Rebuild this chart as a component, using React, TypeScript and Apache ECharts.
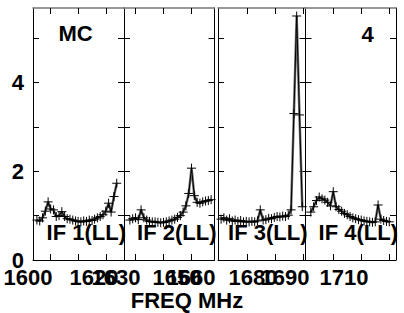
import React, { useEffect, useRef } from 'react';
import * as echarts from 'echarts';

const FONT = "'Liberation Sans', Arial, Helvetica, sans-serif";

// ---- data (frequency in MHz, amplitude) ----
const if1Freq = [1595.4, 1596.4, 1597.4, 1598.4, 1599.4, 1600.3, 1601.3, 1602.3, 1603.3, 1604.3, 1605.3, 1606.2, 1607.2, 1608.2, 1609.2, 1610.1, 1611.1, 1612.1, 1613.1, 1614.1, 1615.1, 1616.0, 1617.0, 1618.0, 1619.0, 1620.0, 1621.0, 1621.9, 1622.9, 1623.9];
const if1Amp = [0.90, 0.88, 0.95, 1.10, 1.31, 1.15, 1.13, 0.98, 1.00, 1.09, 0.98, 0.93, 0.92, 0.90, 0.88, 0.87, 0.86, 0.88, 0.87, 0.90, 0.89, 0.92, 0.95, 0.98, 1.02, 1.10, 1.28, 1.08, 1.43, 1.73];

const if2Freq = [1628.1, 1629.1, 1630.1, 1631.1, 1632.1, 1633.1, 1634.1, 1635.1, 1636.1, 1637.1, 1638.1, 1639.1, 1640.1, 1641.1, 1642.1, 1643.1, 1644.1, 1645.1, 1646.1, 1647.1, 1648.1, 1649.1, 1650.1, 1651.1, 1652.1, 1653.1, 1654.1, 1655.1, 1656.1, 1657.1];
const if2Amp = [0.90, 0.93, 0.95, 0.91, 1.13, 0.95, 0.90, 0.87, 0.86, 0.86, 0.85, 0.84, 0.85, 0.86, 0.88, 0.90, 0.92, 0.96, 1.00, 1.08, 1.22, 1.50, 2.07, 1.45, 1.30, 1.28, 1.31, 1.33, 1.34, 1.36];

const if3Freq = [1660.6, 1661.6, 1662.6, 1663.6, 1664.6, 1665.6, 1666.6, 1667.6, 1668.6, 1669.6, 1670.6, 1671.6, 1672.6, 1673.6, 1674.6, 1675.6, 1676.6, 1677.6, 1678.6, 1679.6, 1680.6, 1681.6, 1682.6, 1683.6, 1684.6, 1685.6, 1686.6, 1687.6, 1688.6, 1689.6];
const if3Amp = [0.92, 0.95, 0.90, 0.93, 0.88, 0.90, 0.87, 0.89, 0.86, 0.87, 0.86, 0.87, 0.86, 0.88, 1.13, 0.90, 0.91, 0.94, 0.93, 0.96, 0.98, 0.97, 0.99, 0.98, 1.01, 1.13, 3.30, 5.50, 3.27, 1.20];

const if4Freq = [1692, 1693, 1694, 1695, 1696, 1697, 1698, 1699, 1700, 1701, 1702, 1703, 1704, 1705, 1706, 1707, 1708, 1709, 1710, 1711, 1712, 1713, 1714, 1715, 1716, 1717, 1718, 1719, 1720];
const if4Amp = [1.08, 1.20, 1.34, 1.42, 1.38, 1.35, 1.30, 1.22, 1.54, 1.20, 1.14, 1.10, 1.05, 1.02, 0.98, 0.95, 0.93, 0.91, 0.90, 0.88, 0.87, 0.86, 0.85, 0.86, 1.24, 0.92, 0.89, 0.87, 0.86];

const panelFreqs = [if1Freq, if2Freq, if3Freq, if4Freq];
const panelAmps = [if1Amp, if2Amp, if3Amp, if4Amp];
const panelTitles = ['IF 1(LL)', 'IF 2(LL)', 'IF 3(LL)', 'IF 4(LL)'];

// tick marks and tick labels
const xTickValues = [[1600, 1610, 1620], [1630, 1640, 1650], [1670, 1680, 1690], [1700, 1710, 1720]];
const xTickLabels = [[1600, 1620], [1630, 1650], [1660, 1680], [1690, 1710]];
const yTickValues = [0, 1, 2, 3, 4, 5];
const yTickLabels = [0, 2, 4];

const sourceName = 'MC';
const plotNumber = '4';
const xAxisTitle = 'FREQ MHz';

// ---- layout ----
const TOP = 8;
const BOTTOM = 260;
const Y_MIN = 0;
const Y_MAX = 5.68;
const PANEL_LEFT = [33, 124, 218, 305.5];
const PANEL_RIGHT = [124, 214.5, 305.5, 396];
const X_MIN = [1594, 1626, 1659.5, 1690.1];
const X_MAX = [1626.5, 1658.3, 1690.75, 1722.4];
const LABEL_PX = [[28, 94], [116, 177], [191, 253], [285, 344]];

const PLUS = 'path://M0,5L10,5M5,0L5,10';

function buildOption() {
  const grid: any[] = [];
  const xAxis: any[] = [];
  const yAxis: any[] = [];
  const series: any[] = [];
  const graphic: any[] = [];

  const labelFont = { fontFamily: FONT, fontSize: 22, fontWeight: 'bold', color: '#000' };
  const plain = (v: number) => String(v);

  for (let i = 0; i < 4; i++) {
    grid.push({ left: PANEL_LEFT[i], width: PANEL_RIGHT[i] - PANEL_LEFT[i], top: TOP, height: BOTTOM - TOP, containLabel: false });
  }
  for (let i = 0; i < 4; i++) {
    grid.push({ left: LABEL_PX[i][0], width: LABEL_PX[i][1] - LABEL_PX[i][0], top: TOP, height: BOTTOM - TOP, containLabel: false });
  }

  for (let i = 0; i < 4; i++) {
    const base = {
      gridIndex: i, type: 'value', min: X_MIN[i], max: X_MAX[i],
      splitLine: { show: false },
      axisLabel: { show: false },
    };
    xAxis.push({
      ...base, position: 'bottom',
      axisLine: { show: true, onZero: false, lineStyle: { color: '#000', width: 1 } },
      axisTick: { show: true, inside: true, length: 6, customValues: xTickValues[i], lineStyle: { color: '#000', width: 1 } },
    });
    xAxis.push({
      ...base, position: 'top',
      axisLine: { show: true, onZero: false, lineStyle: { color: '#777', width: 1.5 } },
      axisTick: { show: true, inside: true, length: 6, customValues: xTickValues[i], lineStyle: { color: '#000', width: 1 } },
    });
    const ybase = {
      gridIndex: i, type: 'value', min: Y_MIN, max: Y_MAX, interval: 1,
      splitLine: { show: false },
      axisLine: { show: true, onZero: false, lineStyle: { color: '#000', width: 1 } },
      axisTick: { show: true, inside: true, length: 6, customValues: yTickValues, lineStyle: { color: '#000', width: 1 } },
    };
    yAxis.push({
      ...ybase, position: 'left',
      axisLabel: i === 0
        ? { show: true, customValues: yTickLabels, margin: 9, formatter: plain, ...labelFont }
        : { show: false },
    });
    yAxis.push({ ...ybase, position: 'right', axisLabel: { show: false } });
  }
  for (let i = 0; i < 4; i++) {
    xAxis.push({
      gridIndex: 4 + i, type: 'value', position: 'bottom',
      min: xTickLabels[i][0], max: xTickLabels[i][1],
      axisLine: { show: false }, axisTick: { show: false }, splitLine: { show: false },
      axisLabel: { show: true, customValues: xTickLabels[i], showMinLabel: true, showMaxLabel: true, margin: 6, formatter: plain, ...labelFont },
    });
    yAxis.push({ gridIndex: 4 + i, type: 'value', show: false, min: 0, max: 1 });
  }

  for (let i = 0; i < 4; i++) {
    const data = panelFreqs[i].map((f, k) => [f, panelAmps[i][k]]);
    series.push({
      type: 'line', xAxisIndex: 2 * i, yAxisIndex: 2 * i, data,
      symbol: 'none', lineStyle: { color: '#6e6e6e', width: 2.5 }, z: 2, silent: true,
    });
    series.push({
      type: 'line', xAxisIndex: 2 * i, yAxisIndex: 2 * i, data,
      symbol: PLUS, symbolSize: 9, showSymbol: true,
      itemStyle: { color: 'transparent', borderColor: '#000', borderWidth: 1 },
      lineStyle: { color: '#000', width: 1 }, z: 3, silent: true,
    });
    graphic.push({
      type: 'text', x: PANEL_RIGHT[i] + 2, y: 232, z: 10,
      style: { text: panelTitles[i], fill: '#000', font: `bold 22px ${FONT}`, align: 'right', verticalAlign: 'middle' },
    });
  }

  graphic.push({
    type: 'text', x: 75.5, y: 33.5, z: 10,
    style: { text: sourceName, fill: '#000', font: `bold 22px ${FONT}`, align: 'center', verticalAlign: 'middle' },
  });
  graphic.push({
    type: 'text', x: 367.5, y: 34.5, z: 10,
    style: { text: plotNumber, fill: '#000', font: `bold 22px ${FONT}`, align: 'center', verticalAlign: 'middle' },
  });
  graphic.push({
    type: 'text', x: 187, y: 300, z: 10,
    style: { text: xAxisTitle, fill: '#000', font: `bold 22px ${FONT}`, align: 'center', verticalAlign: 'middle' },
  });

  return { animation: false, backgroundColor: '#fff', grid, xAxis, yAxis, series, graphic };
}

export default function App() {
  const ref = useRef<HTMLDivElement>(null);
  useEffect(() => {
    if (!ref.current) return;
    const chart = echarts.init(ref.current, undefined, { renderer: 'svg' });
    chart.setOption(buildOption() as any);
    return () => chart.dispose();
  }, []);
  return <div ref={ref} style={{ position: 'fixed', left: 0, top: 0, width: 404, height: 313 }} />;
}
